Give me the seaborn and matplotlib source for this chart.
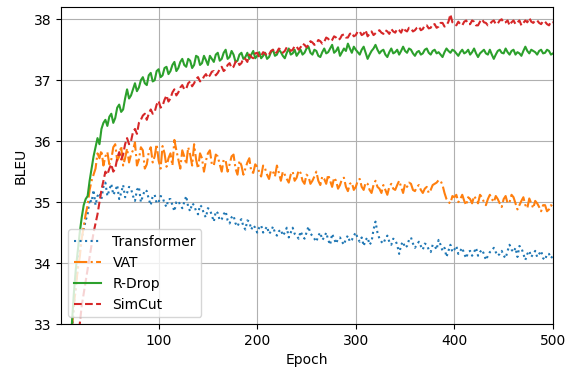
import numpy as np
import pandas as pd
import seaborn as sns
import matplotlib
matplotlib.use("Agg")
import matplotlib.pyplot as plt

# BLEU per epoch, sampled every 2 epochs (2, 4, ..., 500)
transformer = [
    29.5, 30.3, 31.0, 31.7, 32.3, 32.8, 33.3, 33.6, 33.95, 34.2,
    34.4, 34.55, 34.7, 34.8, 35.05, 35.0, 35.2, 34.95, 35.1, 35.15,
    35.05, 35.25, 35.32, 35.1, 35.2, 35.3, 35.12, 35.18, 35.28, 35.05,
    35.15, 35.28, 35.08, 35.15, 35.25, 35.22, 35.1, 35.02, 35.2, 35.25,
    35.0, 35.1, 35.2, 35.18, 35.05, 34.95, 35.1, 35.12, 34.98, 35.0,
    35.1, 35.08, 34.98, 34.92, 35.05, 35.05, 34.95, 34.85, 35.0, 35.02,
    34.95, 34.9, 35.0, 35.1, 34.92, 34.85, 34.98, 34.95, 34.85, 34.8,
    34.95, 34.92, 34.8, 34.75, 34.9, 34.88, 34.78, 34.68, 34.85, 34.82,
    34.7, 34.72, 34.8, 34.85, 34.7, 34.65, 34.75, 34.78, 34.65, 34.6,
    34.68, 34.72, 34.6, 34.55, 34.7, 34.68, 34.55, 34.62, 34.58, 34.5,
    34.58, 34.62, 34.5, 34.55, 34.6, 34.48, 34.52, 34.6, 34.5, 34.45,
    34.52, 34.55, 34.45, 34.5, 34.58, 34.42, 34.5, 34.58, 34.48, 34.45,
    34.4, 34.52, 34.45, 34.4, 34.5, 34.6, 34.48, 34.45, 34.4, 34.35,
    34.45, 34.5, 34.38, 34.42, 34.5, 34.38, 34.3, 34.48, 34.4, 34.32,
    34.4, 34.42, 34.35, 34.3, 34.4, 34.45, 34.35, 34.38, 34.45, 34.5,
    34.4, 34.35, 34.42, 34.28, 34.38, 34.42, 34.3, 34.35, 34.55, 34.68,
    34.5, 34.4, 34.35, 34.32, 34.4, 34.45, 34.35, 34.3, 34.4, 34.38,
    34.3, 34.15, 34.3, 34.35, 34.25, 34.28, 34.38, 34.42, 34.32, 34.25,
    34.3, 34.35, 34.28, 34.22, 34.32, 34.3, 34.22, 34.18, 34.3, 34.28,
    34.22, 34.38, 34.3, 34.2, 34.25, 34.1, 34.2, 34.3, 34.18, 34.22,
    34.28, 34.15, 34.2, 34.25, 34.15, 34.08, 34.18, 34.2, 34.12, 34.18,
    34.25, 34.12, 34.18, 34.22, 34.15, 34.05, 34.12, 34.18, 34.2, 34.25,
    34.18, 34.12, 34.15, 34.2, 34.12, 34.08, 34.2, 34.3, 34.22, 34.18,
    34.25, 34.1, 34.28, 34.25, 34.15, 34.05, 34.15, 34.2, 34.1, 34.15,
    34.2, 34.1, 34.15, 34.2, 34.08, 34.05, 34.15, 34.15, 34.08, 34.12,
]
vat = [
    29.6, 30.4, 31.1, 31.8, 32.4, 32.9, 33.3, 33.6, 33.9, 34.1,
    34.4, 34.6, 34.8, 34.95, 35.2, 35.35, 35.45, 35.55, 35.8, 35.72,
    35.85, 35.6, 35.75, 35.82, 35.62, 35.7, 35.9, 35.95, 35.68, 35.75,
    35.92, 35.6, 35.72, 35.88, 35.65, 35.78, 35.85, 35.98, 35.6, 35.7,
    35.9, 35.85, 35.55, 35.62, 35.82, 35.9, 35.65, 35.75, 35.95, 35.68,
    35.55, 35.92, 35.8, 35.58, 35.72, 35.8, 35.6, 36.02, 35.85, 35.7,
    35.55, 35.85, 35.75, 35.62, 35.9, 35.78, 35.6, 35.95, 35.7, 35.55,
    35.8, 35.72, 35.5, 35.68, 35.8, 35.85, 35.62, 35.6, 35.78, 35.75,
    35.62, 35.5, 35.7, 35.68, 35.5, 35.62, 35.75, 35.78, 35.55, 35.45,
    35.68, 35.6, 35.45, 35.55, 35.65, 35.72, 35.5, 35.48, 35.62, 35.58,
    35.5, 35.42, 35.6, 35.55, 35.45, 35.38, 35.52, 35.5, 35.42, 35.6,
    35.48, 35.35, 35.5, 35.45, 35.38, 35.32, 35.45, 35.5, 35.35, 35.4,
    35.52, 35.48, 35.35, 35.3, 35.45, 35.42, 35.3, 35.35, 35.42, 35.5,
    35.35, 35.28, 35.42, 35.38, 35.3, 35.45, 35.35, 35.25, 35.4, 35.35,
    35.22, 35.28, 35.38, 35.4, 35.25, 35.18, 35.3, 35.32, 35.2, 35.25,
    35.35, 35.38, 35.25, 35.2, 35.32, 35.3, 35.2, 35.15, 35.28, 35.35,
    35.25, 35.22, 35.15, 35.28, 35.2, 35.12, 35.25, 35.3, 35.22, 35.2,
    35.28, 35.35, 35.25, 35.15, 35.3, 35.25, 35.32, 35.3, 35.2, 35.18,
    35.25, 35.28, 35.2, 35.15, 35.22, 35.25, 35.15, 35.2, 35.28, 35.3,
    35.32, 35.36, 35.35, 35.28, 35.15, 35.05, 35.0, 34.98, 35.1, 35.08,
    35.12, 35.0, 35.05, 35.12, 35.02, 34.95, 35.08, 35.05, 34.98, 35.1,
    35.05, 34.98, 35.12, 35.08, 35.0, 34.95, 35.05, 35.12, 35.05, 35.0,
    35.1, 35.05, 34.98, 34.92, 35.05, 35.1, 34.98, 35.0, 35.12, 35.08,
    34.98, 34.88, 34.95, 35.02, 35.08, 34.95, 34.9, 35.06, 34.98, 34.9,
    35.02, 34.98, 34.92, 34.85, 34.95, 34.95, 34.85, 34.88, 34.95, 34.92,
]
rdrop = [
    29.8, 30.6, 31.3, 32.0, 32.5, 33.0, 33.5, 33.9, 34.2, 34.5,
    34.75, 34.95, 35.05, 35.1, 35.35, 35.55, 35.75, 35.9, 36.05, 35.95,
    36.2, 36.3, 36.35, 36.25, 36.4, 36.45, 36.3, 36.38, 36.55, 36.6,
    36.48, 36.52, 36.7, 36.85, 36.7, 36.75, 36.85, 36.95, 36.82, 36.88,
    37.0, 37.05, 36.95, 36.92, 37.08, 37.12, 36.98, 37.0, 37.15, 37.18,
    37.05, 37.08, 37.2, 37.22, 37.1, 37.15, 37.25, 37.3, 37.15, 37.2,
    37.3, 37.35, 37.25, 37.22, 37.35, 37.32, 37.2, 37.25, 37.4, 37.38,
    37.25, 37.28, 37.4, 37.33, 37.25, 37.4, 37.35, 37.3, 37.42, 37.45,
    37.32, 37.35, 37.45, 37.5, 37.35, 37.38, 37.48, 37.42, 37.3, 37.32,
    37.42, 37.45, 37.35, 37.38, 37.45, 37.35, 37.42, 37.48, 37.36, 37.4,
    37.46, 37.36, 37.4, 37.45, 37.35, 37.38, 37.46, 37.5, 37.4, 37.42,
    37.5, 37.46, 37.4, 37.36, 37.45, 37.52, 37.42, 37.44, 37.5, 37.4,
    37.45, 37.5, 37.42, 37.45, 37.52, 37.55, 37.45, 37.42, 37.5, 37.48,
    37.4, 37.38, 37.46, 37.52, 37.44, 37.46, 37.52, 37.58, 37.45, 37.48,
    37.54, 37.4, 37.46, 37.52, 37.48, 37.6, 37.52, 37.45, 37.55, 37.5,
    37.46, 37.42, 37.5, 37.55, 37.45, 37.35, 37.42, 37.48, 37.52, 37.58,
    37.5, 37.44, 37.48, 37.5, 37.42, 37.38, 37.46, 37.52, 37.44, 37.46,
    37.5, 37.42, 37.48, 37.55, 37.48, 37.45, 37.52, 37.5, 37.44, 37.4,
    37.46, 37.48, 37.42, 37.44, 37.5, 37.52, 37.45, 37.42, 37.48, 37.5,
    37.44, 37.46, 37.42, 37.38, 37.46, 37.52, 37.48, 37.45, 37.5, 37.48,
    37.44, 37.4, 37.46, 37.5, 37.44, 37.46, 37.5, 37.42, 37.46, 37.52,
    37.44, 37.38, 37.44, 37.47, 37.5, 37.44, 37.42, 37.5, 37.42, 37.35,
    37.42, 37.48, 37.5, 37.45, 37.44, 37.52, 37.46, 37.42, 37.48, 37.5,
    37.42, 37.46, 37.44, 37.4, 37.48, 37.55, 37.48, 37.44, 37.5, 37.48,
    37.46, 37.42, 37.48, 37.5, 37.44, 37.45, 37.5, 37.48, 37.42, 37.44,
]
simcut = [
    28.8, 29.6, 30.4, 31.0, 31.5, 32.0, 32.3, 32.6, 32.8, 33.0,
    33.3, 33.5, 33.7, 33.9, 34.1, 34.3, 34.5, 34.65, 34.8, 35.0,
    35.2, 35.35, 35.5, 35.45, 35.55, 35.62, 35.5, 35.55, 35.72, 35.82,
    35.7, 35.78, 35.95, 36.05, 35.95, 36.0, 36.15, 36.2, 36.12, 36.3,
    36.35, 36.42, 36.45, 36.35, 36.45, 36.52, 36.45, 36.48, 36.6, 36.66,
    36.55, 36.58, 36.68, 36.75, 36.65, 36.7, 36.8, 36.85, 36.75, 36.8,
    36.88, 36.92, 36.85, 36.86, 36.95, 36.98, 36.9, 36.95, 37.02, 37.05,
    36.98, 37.0, 37.06, 37.1, 37.04, 37.08, 37.14, 37.15, 37.08, 37.12,
    37.18, 37.22, 37.15, 37.18, 37.25, 37.28, 37.2, 37.22, 37.3, 37.32,
    37.25, 37.28, 37.36, 37.35, 37.3, 37.42, 37.38, 37.36, 37.44, 37.45,
    37.38, 37.4, 37.46, 37.44, 37.4, 37.42, 37.48, 37.5, 37.44, 37.46,
    37.52, 37.5, 37.45, 37.48, 37.54, 37.52, 37.48, 37.5, 37.56, 37.55,
    37.5, 37.54, 37.6, 37.58, 37.54, 37.58, 37.64, 37.62, 37.58, 37.6,
    37.66, 37.64, 37.6, 37.63, 37.7, 37.68, 37.64, 37.66, 37.72, 37.7,
    37.66, 37.68, 37.74, 37.75, 37.7, 37.7, 37.76, 37.78, 37.72, 37.74,
    37.8, 37.8, 37.74, 37.76, 37.82, 37.72, 37.76, 37.8, 37.74, 37.77,
    37.8, 37.82, 37.78, 37.76, 37.82, 37.8, 37.76, 37.84, 37.8, 37.78,
    37.84, 37.82, 37.78, 37.86, 37.82, 37.8, 37.86, 37.85, 37.8, 37.82,
    37.86, 37.88, 37.82, 37.84, 37.9, 37.9, 37.85, 37.86, 37.92, 37.92,
    37.86, 37.88, 37.94, 37.94, 37.88, 37.9, 37.96, 38.08, 37.95, 37.92,
    37.9, 37.96, 37.92, 37.9, 37.96, 37.98, 37.92, 37.92, 37.98, 37.96,
    37.9, 37.9, 37.96, 38.0, 37.95, 37.94, 37.9, 37.92, 37.96, 37.98,
    37.92, 37.93, 37.98, 38.0, 37.94, 37.95, 37.98, 37.9, 37.95, 37.98,
    37.92, 37.95, 37.98, 37.9, 37.94, 37.98, 37.95, 38.02, 37.96, 37.94,
    37.98, 37.98, 37.94, 37.92, 37.97, 37.96, 37.92, 37.9, 37.96, 37.95,
]

series = {
    "Transformer": (transformer, ":", "tab:blue"),
    "VAT": (vat, "-.", "tab:orange"),
    "R-Drop": (rdrop, "-", "tab:green"),
    "SimCut": (simcut, "--", "tab:red"),
}

fig = plt.figure(figsize=(5.73, 3.72), dpi=100)
ax = fig.add_axes([0.1065, 0.129, 0.8585, 0.852])

for name, (vals, ls, color) in series.items():
    epochs = np.arange(1, len(vals) + 1) * 2
    df = pd.DataFrame({"Epoch": epochs, "BLEU": vals})
    sns.lineplot(data=df, x="Epoch", y="BLEU", ax=ax, label=name,
                 color=color, linestyle=ls, linewidth=1.5)

ax.set_xlim(1, 500)
ax.set_ylim(33, 38.2)
ax.set_xticks([100, 200, 300, 400, 500])
ax.set_yticks([33, 34, 35, 36, 37, 38])
ax.grid(True)
ax.legend(loc="lower left")

fig.savefig("out.png", dpi=100)
